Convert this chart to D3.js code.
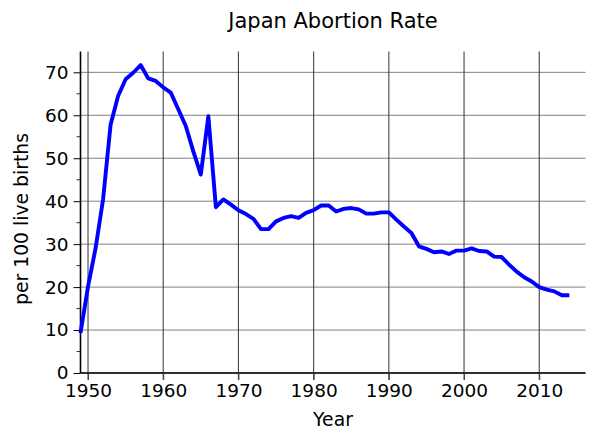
<!DOCTYPE html>
<html>
<head>
<meta charset="utf-8">
<script src="https://cdn.jsdelivr.net/npm/d3@7"></script>
<style>
  body { margin: 0; background: #fff; }
  text { font-family: "DejaVu Sans", sans-serif; fill: #000; }
</style>
</head>
<body>
<div id="chart"></div>
<script>
// abortions per 100 live births
const years = [1949, 1950, 1951, 1952, 1953, 1954, 1955, 1956, 1957, 1958, 1959,
  1960, 1961, 1962, 1963, 1964, 1965, 1966, 1967, 1968, 1969,
  1970, 1971, 1972, 1973, 1974, 1975, 1976, 1977, 1978, 1979,
  1980, 1981, 1982, 1983, 1984, 1985, 1986, 1987, 1988, 1989,
  1990, 1991, 1992, 1993, 1994, 1995, 1996, 1997, 1998, 1999,
  2000, 2001, 2002, 2003, 2004, 2005, 2006, 2007, 2008, 2009,
  2010, 2011, 2012, 2013, 2014];
const rates = [9.3, 20.1, 29.0, 40.4, 57.8, 64.5, 68.4, 69.9, 71.7, 68.6, 68.0,
  66.5, 65.3, 61.4, 57.5, 51.6, 46.2, 59.8, 38.6, 40.4, 39.2,
  37.9, 37.0, 35.9, 33.5, 33.5, 35.3, 36.1, 36.5, 36.1, 37.3,
  37.9, 39.0, 39.0, 37.6, 38.2, 38.4, 38.1, 37.1, 37.1, 37.4,
  37.4, 35.7, 34.1, 32.6, 29.5, 28.9, 28.1, 28.3, 27.7, 28.5,
  28.5, 29.0, 28.4, 28.3, 27.1, 27.0, 25.2, 23.6, 22.3, 21.3,
  20.0, 19.4, 19.0, 18.1, 18.1];
const xTicks = [1950, 1960, 1970, 1980, 1990, 2000, 2010];
const yTicks = [0, 10, 20, 30, 40, 50, 60, 70];
const yMinor = [5, 15, 25, 35, 45, 55, 65];

const margin = {top: 51.5, right: 14.5, bottom: 75, left: 80.5},
      W = 600, H = 448,
      width = W - margin.left - margin.right,
      height = H - margin.top - margin.bottom;

const svg = d3.select("#chart")
  .append("svg")
    .attr("width", W)
    .attr("height", H);

const g = svg.append("g")
  .attr("transform", `translate(${margin.left},${margin.top})`);

const x = d3.scaleLinear().domain([1949, 2016.15]).range([0, width]);
const y = d3.scaleLinear().domain([0, 74.85]).range([height, 0]);

// grid
g.append("g").selectAll("line").data(yTicks).join("line")
  .attr("x1", 0).attr("x2", width)
  .attr("y1", d => y(d)).attr("y2", d => y(d))
  .attr("stroke", "#808080").attr("stroke-width", 1);
g.append("g").selectAll("line").data(xTicks).join("line")
  .attr("x1", d => x(d)).attr("x2", d => x(d))
  .attr("y1", 0).attr("y2", height + 7)
  .attr("stroke", "#444").attr("stroke-width", 1.1);

// x axis
const xAxis = g.append("g")
  .attr("transform", `translate(0,${height})`)
  .call(d3.axisBottom(x).tickValues(xTicks).tickFormat(d3.format("d")).tickSize(7).tickPadding(4));
xAxis.select(".domain").attr("stroke", "#000").attr("stroke-width", 1.6).attr("d", `M0,0H${width}`);
xAxis.selectAll(".tick line").attr("stroke", "#444");
xAxis.selectAll("text").style("font-size", "18.5px");

// y axis
const yAxis = g.append("g")
  .call(d3.axisLeft(y).tickValues(yTicks).tickSize(7).tickPadding(5));
yAxis.select(".domain").attr("stroke", "#000").attr("stroke-width", 1.6).attr("d", `M0,0V${height}`);
yAxis.selectAll(".tick line").attr("stroke", "#000").attr("stroke-width", 1);
yAxis.selectAll("text").style("font-size", "18.5px");
g.append("g").selectAll("line").data(yMinor).join("line")
  .attr("x1", -4).attr("x2", 0)
  .attr("y1", d => y(d)).attr("y2", d => y(d))
  .attr("stroke", "#000").attr("stroke-width", 0.8);

// data line
const data = years.map((yr, i) => ({year: yr, rate: rates[i]}));
const line = d3.line()
  .x(d => x(d.year))
  .y(d => y(d.rate));
g.append("path")
  .datum(data)
  .attr("fill", "none")
  .attr("stroke", "#0000ff")
  .attr("stroke-width", 3.9)
  .attr("stroke-linejoin", "round")
  .attr("d", line);

// labels
svg.append("text")
  .attr("x", margin.left + width / 2)
  .attr("y", 28)
  .attr("text-anchor", "middle")
  .style("font-size", "21px")
  .text("Japan Abortion Rate");

svg.append("text")
  .attr("x", margin.left + width / 2)
  .attr("y", 426)
  .attr("text-anchor", "middle")
  .style("font-size", "18.8px")
  .text("Year");

svg.append("text")
  .attr("transform", `translate(28,219) rotate(-90)`)
  .attr("text-anchor", "middle")
  .style("font-size", "18.8px")
  .text("per 100 live births");
</script>
</body>
</html>
